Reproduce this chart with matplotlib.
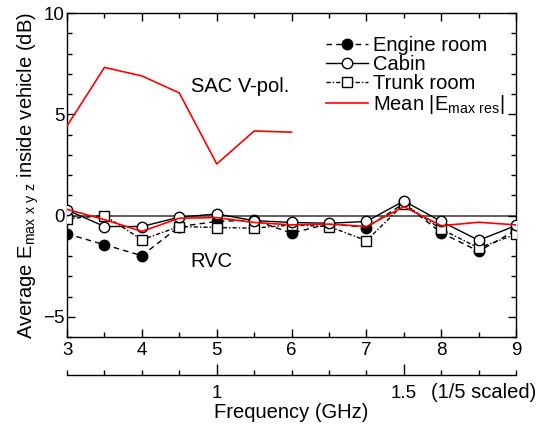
import matplotlib.pyplot as plt
import numpy as np

plt.rcParams['font.family'] = ['Liberation Sans', 'DejaVu Sans']
plt.rcParams['mathtext.default'] = 'regular'

freq = [3, 3.5, 4, 4.5, 5, 5.5, 6, 6.5, 7, 7.5, 8, 8.5, 9]
engine = [-0.90, -1.44, -1.98, -0.54, -0.29, -0.22, -0.87, -0.40, -0.59, 0.60, -0.85, -1.76, -0.72]
cabin = [0.28, -0.54, -0.54, -0.08, 0.08, -0.25, -0.34, -0.38, -0.29, 0.72, -0.29, -1.22, -0.49]
trunk = [-0.16, 0.0, -1.19, -0.54, -0.59, -0.62, -0.46, -0.54, -1.24, 0.57, -0.67, -1.60, -0.92]
mean_rvc = [0.31, -0.20, -0.78, -0.13, -0.10, -0.34, -0.46, -0.42, -0.54, 0.44, -0.50, -0.33, -0.46]

freq_sac = [3, 3.5, 4, 4.5, 5, 5.5, 6]
mean_sac = [4.43, 7.32, 6.90, 6.06, 2.55, 4.18, 4.12]

fs = 14.5   # text size
ts = 13.5   # tick label size

fig = plt.figure(figsize=(5.45, 4.25), dpi=100)
ax = fig.add_axes([0.123, 0.207, 0.824, 0.762])

ax.axhline(0, color='#444444', lw=1.2, zorder=1)
ax.plot(freq, engine, '--', color='black', lw=1, marker='o', ms=7.5,
        mfc='black', mec='black', dashes=(4, 3), label='Engine room', zorder=3)
ax.plot(freq, cabin, '-', color='black', lw=1, marker='o', ms=7.5,
        mfc='white', mec='black', label='Cabin', zorder=4)
ax.plot(freq, trunk, '-.', color='black', lw=1, marker='s', ms=7,
        mfc='white', mec='black', dashes=(3, 1.5, 1, 1.5), label='Trunk room', zorder=3)
ax.plot(freq, mean_rvc, '-', color='red', lw=1.2, zorder=5,
        label='Mean |E$_{max\\ res}$|')
ax.plot(freq_sac, mean_sac, '-', color='red', lw=1.2, zorder=5)

ax.text(4.65, 6.4, 'SAC V-pol.', fontsize=fs, ha='left', va='center')
ax.text(4.65, -2.25, 'RVC', fontsize=fs, ha='left', va='center')

ax.set_xlim(3, 9)
ax.set_ylim(-6, 10)
ax.set_xticks(np.arange(3, 10, 1))
ax.set_xticks(np.arange(3, 9.01, 0.5), minor=True)
ax.set_yticks([-5, 0, 5, 10])
ax.set_yticks(np.arange(-6, 10.01, 1), minor=True)
ax.tick_params(which='both', direction='in', top=True, right=True, labelsize=ts, width=1)
ax.tick_params(which='major', length=6)
ax.tick_params(which='minor', length=3.5)
ax.tick_params(axis='y', pad=2)
ax.set_ylabel('Average E$_{max\\ x\\ y\\ z}$ inside vehicle (dB)', fontsize=fs, labelpad=1)
for s in ax.spines.values():
    s.set_linewidth(1)

# 아래쪽 보조 축 (1/5 스케일)
sec = ax.secondary_xaxis(-0.118, functions=(lambda x: x / 5, lambda x: x * 5))
sec.set_xticks([1, 1.5])
sec.set_xticklabels(['1', '1.5'])
sec.set_xticks(np.arange(0.6, 1.81, 0.1), minor=True)
sec.tick_params(which='both', direction='in', labelsize=ts, width=1, pad=7)
sec.tick_params(which='major', length=8)
sec.tick_params(which='minor', length=3.5)
sec.spines['bottom'].set_linewidth(1)
sec.set_xlabel('Frequency (GHz)', fontsize=fs, labelpad=1)
ax.text(0.81, -0.172, '(1/5 scaled)', transform=ax.transAxes, fontsize=fs,
        ha='left', va='center')

leg = ax.legend(loc='upper right', bbox_to_anchor=(0.975, 0.93), frameon=False,
                fontsize=fs, handlelength=2.1, handletextpad=0.25,
                labelspacing=0.0, borderaxespad=0, borderpad=0)

fig.savefig('out.png', dpi=100)
